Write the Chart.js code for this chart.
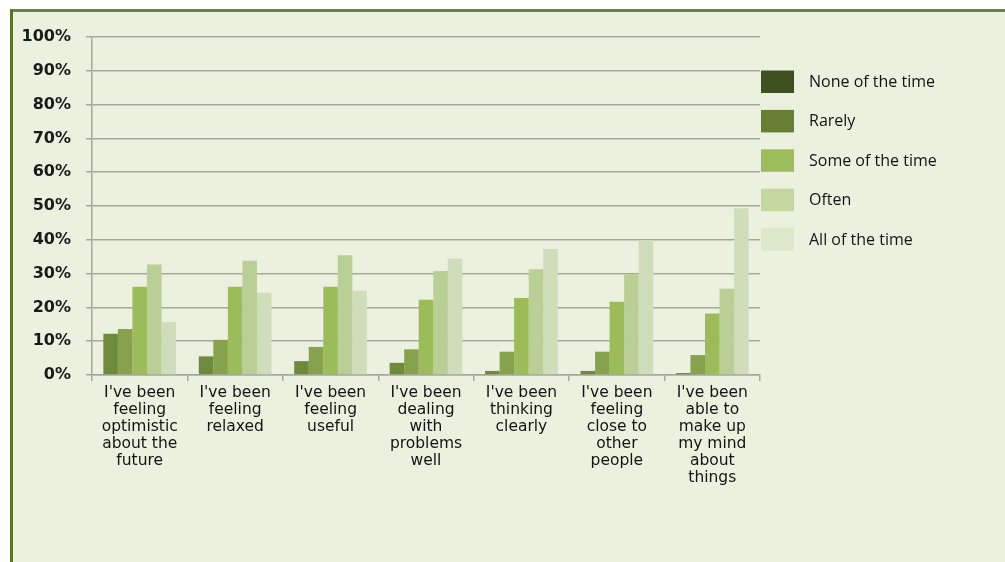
<!DOCTYPE html>
<html>
<head>
<meta charset="utf-8">
<script src="https://cdn.jsdelivr.net/npm/chart.js@4"></script>
<style>
  html, body { margin: 0; padding: 0; background: #ffffff; }
  canvas { display: block; }
</style>
</head>
<body>
<canvas id="chart" width="1005" height="562"></canvas>
<script>
// Survey statements (category axis)
const categories = [
  ["I've been", "feeling", "optimistic", "about the", "future"],
  ["I've been", "feeling", "relaxed"],
  ["I've been", "feeling", "useful"],
  ["I've been", "dealing", "with", "problems", "well"],
  ["I've been", "thinking", "clearly"],
  ["I've been", "feeling", "close to", "other", "people"],
  ["I've been", "able to", "make up", "my mind", "about", "things"]
];

// Response frequency series (% of respondents)
const seriesNames = ["None of the time", "Rarely", "Some of the time", "Often", "All of the time"];
const noneOfTheTime = [12.2, 5.5, 4.1, 3.6, 1.2, 1.2, 0.6];
const rarely        = [13.6, 10.4, 8.3, 7.6, 6.9, 6.9, 5.9];
const someOfTheTime = [26.1, 26.1, 26.1, 22.3, 22.8, 21.7, 18.2];
const often         = [32.7, 33.8, 35.4, 30.8, 31.3, 29.9, 25.5];
const allOfTheTime  = [15.7, 24.3, 24.9, 34.5, 37.3, 39.9, 49.3];

// Y axis tick values (percent)
const yTicks = [0, 10, 20, 30, 40, 50, 60, 70, 80, 90, 100];

const barColors    = ["#6e8b3d", "#87a24d", "#9cbb5a", "#b9cf95", "#d0ddba"];
const legendColors = ["#3f5121", "#667f34", "#9dbc5c", "#c4d79f", "#dde7cb"];

const seriesValues = [noneOfTheTime, rarely, someOfTheTime, often, allOfTheTime];

const gridColor = "#a6a89c";

// Frame and panel background
const framePlugin = {
  id: "frame",
  beforeDraw(chart) {
    const ctx = chart.ctx;
    ctx.save();
    ctx.fillStyle = "#ffffff";
    ctx.fillRect(0, 0, chart.width, chart.height);
    ctx.fillStyle = "#ebf0df";
    ctx.fillRect(10, 9, chart.width - 10, chart.height - 9);
    ctx.fillStyle = "#6a8540";
    ctx.fillRect(10, 9, chart.width - 10, 3);
    ctx.fillStyle = "#58722f";
    ctx.fillRect(10, 9, 3, chart.height - 9);
    ctx.restore();
  }
};

// Legend at the right of the plot
const sideLegend = {
  id: "sideLegend",
  afterDraw(chart) {
    const ctx = chart.ctx;
    ctx.save();
    ctx.font = "16px 'Open Sans'";
    ctx.textBaseline = "alphabetic";
    ctx.textAlign = "left";
    chart.data.datasets.forEach((ds, i) => {
      const y = 70.5 + i * 39.4;
      ctx.fillStyle = legendColors[i];
      ctx.fillRect(chart.chartArea.right + 1, y, 33, 22.5);
      ctx.fillStyle = "#141414";
      ctx.fillText(ds.label, chart.chartArea.right + 49, y + 16.5);
    });
    ctx.restore();
  }
};

new Chart(document.getElementById("chart"), {
  type: "bar",
  data: {
    labels: categories,
    datasets: seriesNames.map((name, i) => ({
      label: name,
      data: seriesValues[i],
      backgroundColor: barColors[i],
      borderWidth: 0,
      categoryPercentage: 0.762,
      barPercentage: 1.0
    }))
  },
  options: {
    responsive: false,
    animation: false,
    devicePixelRatio: 1,
    layout: { padding: { top: 37, right: 245, bottom: 0, left: 0 } },
    plugins: {
      legend: { display: false },
      tooltip: { enabled: false }
    },
    scales: {
      x: {
        grid: {
          display: true,
          drawOnChartArea: false,
          drawTicks: true,
          tickLength: 6,
          color: gridColor,
          lineWidth: 1.5,
          offset: true
        },
        border: { display: true, color: gridColor, width: 1.5 },
        ticks: {
          font: { family: "'DejaVu Sans'", size: 15.5, lineHeight: 1.1 },
          color: "#141414",
          padding: 3,
          maxRotation: 0,
          autoSkip: false
        },
        afterFit(scale) { scale.height = 187; }
      },
      y: {
        min: 0,
        max: 100,
        afterBuildTicks(scale) { scale.ticks = yTicks.map(v => ({ value: v })); },
        ticks: {
          callback: v => v + "%",
          font: { family: "'DejaVu Sans'", size: 16, weight: "bold" },
          color: "#1a1a1a",
          padding: 15
        },
        grid: { color: gridColor, lineWidth: 1.5, tickLength: 6, drawTicks: true },
        border: { display: true, color: gridColor, width: 1.5 },
        afterFit(scale) { scale.width = 92; }
      }
    }
  },
  plugins: [framePlugin, sideLegend]
});
</script>
</body>
</html>
